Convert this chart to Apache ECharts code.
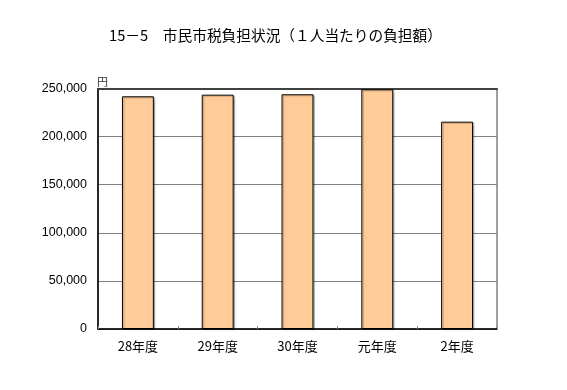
<!DOCTYPE html>
<html>
<head>
<meta charset="utf-8">
<script src="https://cdn.jsdelivr.net/npm/echarts@6/dist/echarts.min.js"></script>
<style>
html,body{margin:0;padding:0;background:#fff;}
#c{width:567px;height:390px;}
</style>
</head>
<body>
<div id="c"></div>
<script>
const titleText = '15－5　市民市税負担状況（１人当たりの負担額）';
const unitLabel = '円';
const categories = ['28年度', '29年度', '30年度', '元年度', '2年度'];
const values = [241900, 243600, 244000, 249200, 215500];
const yMin = 0, yMax = 250000, yInterval = 50000;

const chart = echarts.init(document.getElementById('c'), null, {renderer: 'canvas'});
chart.setOption({
  animation: false,
  backgroundColor: '#ffffff',
  title: {
    text: titleText,
    left: 104,
    top: 23,
    textStyle: {fontFamily: 'Noto Sans CJK JP', fontSize: 14.7, fontWeight: 'normal', color: '#000'}
  },
  grid: {
    left: 98, right: 70, top: 88.5, bottom: 61,
    show: true, borderColor: '#404040', borderWidth: 1, backgroundColor: '#fff'
  },
  xAxis: [{
    type: 'category',
    data: categories,
    boundaryGap: true,
    axisLine: {show: true, lineStyle: {color: '#000', width: 1.5}},
    axisTick: {show: true, inside: true, length: 3, lineStyle: {color: '#888'}},
    axisLabel: {color: '#000', fontSize: 13, margin: 11, fontFamily: 'Noto Sans CJK JP'}
  }, {
    type: 'category',
    position: 'top',
    data: categories,
    axisLine: {show: true, lineStyle: {color: '#404040', width: 2}},
    axisTick: {show: false},
    axisLabel: {show: false}
  }],
  yAxis: {
    type: 'value',
    min: yMin, max: yMax, interval: yInterval,
    name: unitLabel,
    nameLocation: 'end',
    nameGap: 1,
    nameTextStyle: {align: 'left', verticalAlign: 'bottom', fontSize: 11, color: '#333', fontFamily: 'Noto Sans CJK JP', padding: [0, 0, 0, -1]},
    axisLine: {show: true, lineStyle: {color: '#000', width: 1.5}},
    axisTick: {show: false},
    splitLine: {show: true, lineStyle: {color: '#808080', width: 1}},
    axisLabel: {
      color: '#000', fontSize: 12.5, margin: 11, fontFamily: 'Liberation Sans',
      formatter: v => v.toLocaleString('en-US')
    }
  },
  series: [{
    type: 'bar',
    data: values,
    xAxisIndex: 0,
    barWidth: '40%',
    itemStyle: {
      color: '#FFCC99', borderColor: '#000', borderWidth: 1,
      shadowColor: 'rgba(0,0,0,0.25)', shadowOffsetX: 1.5, shadowOffsetY: 1, shadowBlur: 1
    }
  }]
});
</script>
</body>
</html>
